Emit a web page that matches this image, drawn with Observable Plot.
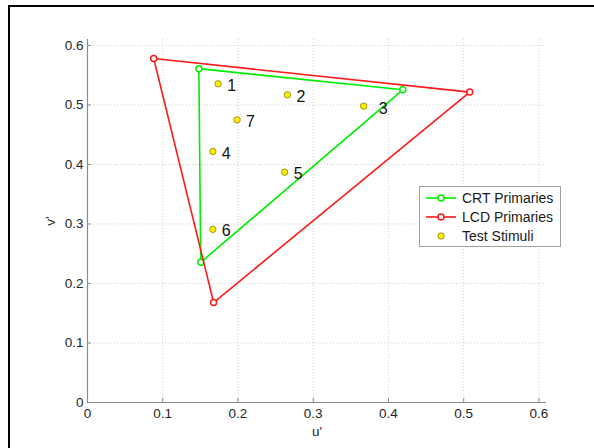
<!DOCTYPE html>
<html><head><meta charset="utf-8">
<script src="https://cdn.jsdelivr.net/npm/d3@7"></script>
<script src="https://cdn.jsdelivr.net/npm/@observablehq/plot@0.6"></script>
<style>
body{margin:0;background:#fff;font-family:Arial,"Liberation Sans",sans-serif;}
#wrap{position:relative;width:594px;height:448px;overflow:hidden;background:#fff;}
#frame{position:absolute;left:8px;top:5px;width:620px;height:480px;border-left:2px solid #000;border-top:2px solid #000;pointer-events:none;}
#chart{position:absolute;left:0;top:0;}
#legend{position:absolute;left:419px;top:186px;width:140px;height:59px;border:1px solid #a0a0a0;background:#fff;font-size:14px;color:#1a1a1a;}
#legend .row{position:absolute;left:0;height:18px;display:flex;align-items:center;}
#legend svg{display:block;}
#legend span{margin-left:4px;white-space:nowrap;}
</style></head>
<body><div id="wrap"><div id="chart"></div><div id="legend"></div><div id="frame"></div></div>
<script>
// CRT primaries (u', v')
const crtU = [0.148, 0.419, 0.1505];
const crtV = [0.561, 0.5255, 0.2356];
// LCD primaries (u', v')
const lcdU = [0.088, 0.508, 0.1676];
const lcdV = [0.578, 0.5216, 0.168];
// Test stimuli
const stimLabels = ["1", "2", "3", "4", "5", "6", "7"];
const stimU = [0.1736, 0.2657, 0.367, 0.1666, 0.262, 0.1666, 0.1988];
const stimV = [0.5356, 0.517, 0.498, 0.4218, 0.387, 0.291, 0.475];
// Ticks
const tickValues = [0, 0.1, 0.2, 0.3, 0.4, 0.5, 0.6];
const tickLabels = ["0", "0.1", "0.2", "0.3", "0.4", "0.5", "0.6"];
const legendLabels = ["CRT Primaries", "LCD Primaries", "Test Stimuli"];

const crt = crtU.map((u, i) => ({u, v: crtV[i]}));
const lcd = lcdU.map((u, i) => ({u, v: lcdV[i]}));
const stim = stimU.map((u, i) => ({u, v: stimV[i], label: stimLabels[i]}));
const fmt = d => tickLabels[tickValues.findIndex(t => Math.abs(t - d) < 1e-9)];

const GREEN = "#00ee00", RED = "#ff1a1a";

const chart = Plot.plot({
  width: 594, height: 448,
  marginLeft: 87, marginRight: 48, marginTop: 39, marginBottom: 46,
  style: {fontFamily: "Arial, 'Liberation Sans', sans-serif", fontSize: "13.5px", color: "#262626", background: "transparent"},
  x: {domain: [0, 0.61]},
  y: {domain: [0, 0.61]},
  marks: [
    Plot.gridX(tickValues, {stroke: "#cfcfcf", strokeOpacity: 1, strokeDasharray: "1,2"}),
    Plot.gridY(tickValues, {stroke: "#cfcfcf", strokeOpacity: 1, strokeDasharray: "1,2"}),
    Plot.ruleX([0], {stroke: "#8c8c8c", strokeWidth: 1.2}),
    Plot.ruleY([0], {stroke: "#8c8c8c", strokeWidth: 1.2}),
    Plot.axisX(tickValues, {tickSize: -4, tickPadding: 10, tickFormat: fmt, stroke: "#8c8c8c", fill: "#262626",
      label: "u'", labelAnchor: "center", labelArrow: "none", labelOffset: 33}),
    Plot.axisY(tickValues, {tickSize: -4, tickPadding: 8, tickFormat: fmt, stroke: "#8c8c8c", fill: "#262626",
      label: "v'", labelAnchor: "center", labelArrow: "none", labelOffset: 42}),
    Plot.line(crt, {x: "u", y: "v", curve: "linear-closed", stroke: GREEN, strokeWidth: 1.6}),
    Plot.dot(crt, {x: "u", y: "v", r: 3, stroke: GREEN, fill: "white", strokeWidth: 1.5}),
    Plot.line(lcd, {x: "u", y: "v", curve: "linear-closed", stroke: RED, strokeWidth: 1.6}),
    Plot.dot(lcd, {x: "u", y: "v", r: 3, stroke: RED, fill: "white", strokeWidth: 1.5}),
    Plot.dot(stim, {x: "u", y: "v", r: 3.2, fill: "#ffee00", stroke: "#8a8000", strokeWidth: 0.8}),
    Plot.text(stim.filter(d => d.label !== "3"), {x: "u", y: "v", text: "label", textAnchor: "start", dx: 9, dy: 2, fontSize: 16, fill: "#111"}),
    Plot.text(stim.filter(d => d.label === "3"), {x: "u", y: "v", text: "label", textAnchor: "start", dx: 15, dy: 3, fontSize: 16, fill: "#111"})
  ]
});
document.getElementById("chart").appendChild(chart);

// Legend
const leg = document.getElementById("legend");
const kinds = [{c: GREEN, line: true, fill: "white"}, {c: RED, line: true, fill: "white"}, {c: "#8a8000", line: false, fill: "#ffee00"}];
legendLabels.forEach((t, i) => {
  const row = document.createElement("div");
  row.className = "row";
  row.style.top = (2 + i * 19) + "px";
  const k = kinds[i];
  row.innerHTML = `<svg width="38" height="18">` +
    (k.line ? `<line x1="6" x2="36" y1="9" y2="9" stroke="${k.c}" stroke-width="1.6"/>` : "") +
    `<circle cx="21" cy="9" r="${k.line ? 3 : 3.2}" fill="${k.fill}" stroke="${k.c}" stroke-width="${k.line ? 1.5 : 0.8}"/></svg><span>${t}</span>`;
  leg.appendChild(row);
});
</script>
</body></html>
